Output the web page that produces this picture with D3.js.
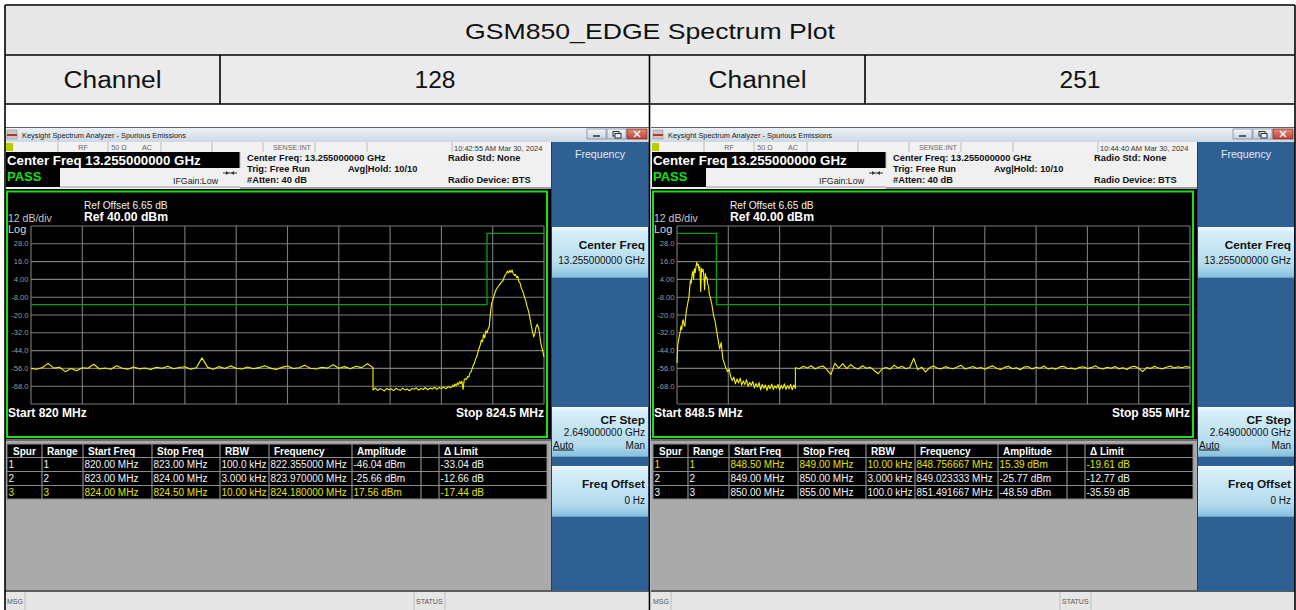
<!DOCTYPE html>
<html><head><meta charset="utf-8">
<script src="https://cdn.jsdelivr.net/npm/d3@7"></script>
<style>
body{margin:0;background:#fff;}
svg{display:block;}
</style></head><body>
<svg id="c" width="1296" height="610"></svg>
<script>
// ---------------- DATA ----------------
const reportTitle = "GSM850_EDGE Spectrum Plot";
const channelLabel = "Channel";
const channels = ["128", "251"];
const windowTitle = "Keysight Spectrum Analyzer - Spurious Emissions";
const timestamps = ["10:42:55 AM Mar 30, 2024", "10:44:40 AM Mar 30, 2024"];
const spanStart = [820, 848.5];
const spanStop = [824.5, 855];
const startLabels = ["Start  820 MHz", "Start  848.5 MHz"];
const stopLabels = ["Stop 824.5 MHz", "Stop 855 MHz"];
const refLevel = 40;
const dbPerDiv = 12;
const numDivs = 10;
const yTickValues = [28, 16, 4, -8, -20, -32, -44, -56, -68];
const yTickLabels = ["28.0", "16.0", "4.00", "-8.00", "-20.0", "-32.0", "-44.0", "-56.0", "-68.0"];

// limit lines: [freq MHz, dBm], step-after
const limitCh128 = [[820, -13], [824, 35], [824.5, 35]];
const limitCh251 = [[848.5, 35], [849, -13], [855, -13]];

// traces: sweep segments (start MHz, stop MHz, dBm readings evenly spaced over the segment)
const traceCh128 = [
  {start: 820.00, stop: 823.00, values: [
    -56.0,-56.6,-55.4,-52.6,-55.8,-55.2,-58.2,-56.0,-57.6,-55.6,
    -55.9,-53.2,-56.4,-55.7,-56.6,-54.2,-55.9,-56.5,-55.1,-56.3,
    -55.7,-56.8,-55.2,-55.9,-54.6,-56.2,-55.4,-54.9,-56.5,-55.6,
    -48.9,-55.3,-56.6,-54.8,-56.0,-54.3,-55.9,-56.4,-55.1,-56.2,
    -55.5,-54.2,-55.8,-56.7,-55.3,-54.4,-56.1,-55.6,-53.8,-55.9,
    -56.4,-55.2,-55.8,-53.6,-55.9,-54.8,-56.3,-54.6,-55.5,-52.9,-55.4]},
  {start: 823.00, stop: 823.70, values: [
    -70.6,-69.2,-70.9,-69.6,-70.3,-71.2,-69.5,-70.4,-69.8,-71.0,
    -69.4,-70.2,-70.8,-69.3,-70.5,-69.9,-71.1,-69.6,-70.0,-69.1,
    -70.7,-69.5,-70.2,-68.9,-70.4,-69.3,-69.9,-68.7,-70.1,-68.9,
    -69.6,-68.4,-69.8,-68.2,-69.1,-67.8]},
  {start: 823.70, stop: 824.00, values: [
    -67.2,-68.4,-66.5,-67.6,-65.8,-66.9,-64.9,-66.2,-64.6,-70.2,
    -63.8,-62.9,-63.5,-61.4,-61.9,-59.2,-58.4,-56.1,-53.8,-52.4,
    -49.6,-48.2,-45.1,-42.6,-40.4,-36.9,-38.2,-33.1,-35.4,-30.6,-32.2]},
  {start: 824.00, stop: 824.50, values: [
    -32.2,-29.4,-27.6,-18.9,-12.3,-10.1,-7.4,-5.2,-3.0,-1.6,
    -0.8,0.6,1.2,2.6,3.1,5.4,6.9,8.2,9.6,8.4,
    10.2,8.6,10.4,7.8,6.6,7.4,5.2,6.1,2.4,1.6,
    -1.8,-3.4,-5.6,-8.2,-10.4,-13.8,-16.2,-19.4,-23.6,-27.8,
    -31.6,-34.8,-32.4,-28.2,-26.4,-27.9,-31.8,-38.2,-41.6,-44.8,-48.2]}
];
const traceCh251 = [
  {start: 848.50, stop: 849.00, values: [
    -52.4,-40.2,-36.8,-34.2,-31.6,-27.4,-29.8,-24.6,-23.2,-26.8,
    -27.6,-21.2,-16.4,-14.2,-10.8,-8.6,-2.4,3.2,1.4,6.8,
    9.4,4.2,11.2,8.6,12.1,15.6,13.4,14.2,9.8,12.6,
    -4.2,11.4,9.2,10.8,6.4,-3.0,8.1,4.6,5.2,0.4,
    -0.6,-6.4,-7.8,-10.2,-12.4,-15.6,-19.2,-21.8,-23.6,-26.4,-30.2]},
  {start: 849.00, stop: 850.00, values: [
    -30.2,-36.4,-42.8,-38.6,-49.4,-52.6,-55.8,-58.2,-56.4,-61.6,
    -64.2,-61.8,-66.4,-63.2,-65.8,-62.6,-67.2,-64.4,-66.8,-63.6,
    -68.2,-65.4,-67.6,-64.8,-69.2,-66.2,-68.6,-65.6,-70.4,-66.8,
    -69.4,-67.2,-70.8,-67.4,-69.8,-66.6,-70.2,-67.8,-69.4,-66.8,
    -70.6,-67.4,-69.6,-66.4,-70.2,-67.6,-69.8,-66.8,-70.4,-67.2,-69.6]},
  {start: 850.00, stop: 855.00, values: [
    -55.6,-56.2,-54.6,-55.8,-54.2,-56.4,-55.1,-54.4,-56.8,-60.2,
    -52.6,-55.8,-52.8,-56.2,-53.4,-55.6,-56.4,-54.2,-55.9,-55.3,
    -57.4,-59.6,-56.2,-55.4,-56.6,-53.8,-55.7,-54.6,-56.2,-55.4,
    -49.2,-56.8,-55.2,-58.4,-55.6,-54.4,-55.9,-56.3,-54.8,-55.7,
    -56.2,-55.1,-53.9,-56.4,-55.6,-54.7,-56.1,-55.4,-56.6,-55.2,
    -54.3,-55.9,-56.8,-55.3,-54.6,-56.2,-55.5,-56.9,-55.1,-54.8,
    -56.4,-55.2,-55.9,-54.4,-56.3,-55.7,-56.5,-55.0,-54.6,-56.2,
    -55.8,-56.6,-55.3,-54.9,-56.1,-55.5,-54.2,-55.8,-56.4,-55.2,
    -55.9,-54.7,-56.3,-55.6,-56.8,-55.1,-54.5,-55.9,-58.2,-55.4,
    -56.0,-54.6,-55.7,-56.3,-55.2,-54.4,-55.8,-54.9,-55.6,-54.7,-55.3]}
];

const tableHeaders = ["Spur", "Range", "Start Freq", "Stop Freq", "RBW", "Frequency", "Amplitude", "", "\u0394 Limit"];
const spurRowsCh128 = [
  ["1", "1", "820.00 MHz", "823.00 MHz", "100.0 kHz", "822.355000 MHz", "-46.04 dBm", "", "-33.04 dB"],
  ["2", "2", "823.00 MHz", "824.00 MHz", "3.000 kHz", "823.970000 MHz", "-25.66 dBm", "", "-12.66 dB"],
  ["3", "3", "824.00 MHz", "824.50 MHz", "10.00 kHz", "824.180000 MHz", "17.56 dBm", "", "-17.44 dB"]
];
const spurRowsCh251 = [
  ["1", "1", "848.50 MHz", "849.00 MHz", "10.00 kHz", "848.756667 MHz", "15.39 dBm", "", "-19.61 dB"],
  ["2", "2", "849.00 MHz", "850.00 MHz", "3.000 kHz", "849.023333 MHz", "-25.77 dBm", "", "-12.77 dB"],
  ["3", "3", "850.00 MHz", "855.00 MHz", "100.0 kHz", "851.491667 MHz", "-48.59 dBm", "", "-35.59 dB"]
];
const highlightRows = [2, 0];

// ---------------- DRAW ----------------
const svg = d3.select("#c").attr("font-family", "'Liberation Sans', Arial, sans-serif");
const defs = svg.append("defs");
function grad(id, stops) {
  const lg = defs.append("linearGradient").attr("id", id).attr("x1", 0).attr("y1", 0).attr("x2", 0).attr("y2", 1);
  stops.forEach(([o, c]) => lg.append("stop").attr("offset", o).attr("stop-color", c));
}
grad("keyGrad", [["0%", "#f4fbfe"], ["10%", "#d6eef8"], ["75%", "#b2dbee"], ["100%", "#84bedb"]]);
grad("titleGrad", [["0%", "#eef2f7"], ["100%", "#cdd8e4"]]);
grad("btnGrad", [["0%", "#f6f8fb"], ["100%", "#c3cfdd"]]);
grad("closeGrad", [["0%", "#e58a7c"], ["100%", "#c2402f"]]);

function T(g, x, y, s, o = {}) {
  const t = g.append("text").attr("x", x).attr("y", y).text(s)
    .attr("font-size", o.size || 10).attr("fill", o.fill || "#000")
    .attr("text-anchor", o.anchor || "start");
  if (o.bold) t.attr("font-weight", "bold");
  if (o.len) t.attr("textLength", o.len).attr("lengthAdjust", "spacingAndGlyphs");
  if (o.deco) t.attr("text-decoration", o.deco);
  return t;
}
function R(g, x, y, w, h, fill, stroke, sw) {
  const r = g.append("rect").attr("x", x).attr("y", y).attr("width", w).attr("height", h).attr("fill", fill);
  if (stroke) r.attr("stroke", stroke).attr("stroke-width", sw || 1);
  return r;
}
function L(g, x1, y1, x2, y2, c, w) {
  return g.append("line").attr("x1", x1).attr("y1", y1).attr("x2", x2).attr("y2", y2)
    .attr("stroke", c).attr("stroke-width", w || 1);
}

// ---- outer report table
R(svg, 5, 5, 1290, 50, "#e8e8e8");
R(svg, 5, 55, 1290, 49, "#ebebeb");
T(svg, 650, 39, reportTitle, {size: 22, anchor: "middle", len: 370, fill: "#111"});
T(svg, 112.5, 88, channelLabel, {size: 23, anchor: "middle", len: 98, fill: "#111"});
T(svg, 435, 88, channels[0], {size: 23, anchor: "middle", len: 41, fill: "#111"});
T(svg, 757.5, 88, channelLabel, {size: 23, anchor: "middle", len: 98, fill: "#111"});
T(svg, 1080, 88, channels[1], {size: 23, anchor: "middle", len: 41, fill: "#111"});

// ---- spectrum analyzer screenshots
function drawPanel(k, dx) {
  const g = svg.append("g").attr("transform", `translate(${dx},0)`);
  // frame
  R(g, 5, 127, 644, 483, "#d6d6d6");
  // title bar
  R(g, 5, 127, 644, 15, "url(#titleGrad)");
  L(g, 5, 127.5, 649, 127.5, "#5a6270", 1);
  R(g, 7, 130, 10, 9, "#c8c8c8", "#888", 0.5);
  R(g, 7, 134, 10, 2, "#c0302a");
  T(g, 22, 138, windowTitle, {size: 7.4, fill: "#1a1a1a"});
  R(g, 587, 129, 19, 10, "url(#btnGrad)", "#7d8ca3", 0.8);
  L(g, 593, 136, 600, 136, "#333", 1.5);
  R(g, 607, 129, 19, 10, "url(#btnGrad)", "#7d8ca3", 0.8);
  R(g, 613, 131.5, 6, 4.5, "none", "#333", 1);
  R(g, 615, 133.5, 6, 4.5, "#e8eef5", "#333", 1);
  R(g, 627, 129, 20, 10, "url(#closeGrad)", "#8a2a20", 0.8);
  L(g, 634, 131, 640, 137, "#fff", 1.5);
  L(g, 640, 131, 634, 137, "#fff", 1.5);

  // status row
  R(g, 5, 142, 546, 10, "#f2f2f2");
  R(g, 6, 143, 7, 8, "#b5cc00");
  [58, 108, 161, 212, 263, 315, 367, 452].forEach(x => L(g, x, 142, x, 152, "#b8b8b8", 1));
  T(g, 83, 150, "RF", {size: 7.2, fill: "#666", anchor: "middle"});
  T(g, 119, 150, "50 \u03A9", {size: 7.2, fill: "#666", anchor: "middle"});
  T(g, 147, 150, "AC", {size: 7.2, fill: "#666", anchor: "middle"});
  T(g, 292, 150, "SENSE:INT", {size: 7.2, fill: "#666", anchor: "middle"});
  T(g, 454, 150.5, timestamps[k], {size: 7.5, fill: "#333"});

  // info area
  R(g, 5, 152, 546, 37, "#f0f0f0");
  R(g, 6, 152, 234, 16, "#000");
  T(g, 7, 164.5, "Center Freq 13.255000000 GHz", {size: 13.3, bold: true, fill: "#fff"});
  R(g, 6, 168, 54, 19, "#000");
  L(g, 60, 187, 240, 187, "#9a9a9a", 1);
  T(g, 7, 181, "PASS", {size: 13, bold: true, fill: "#14e014"});
  T(g, 173, 184, "IFGain:Low", {size: 8.8, fill: "#222"});
  L(g, 223, 173, 237, 173, "#333", 1);
  g.append("path").attr("d", "M226,171 L229,173 L226,175 Z M234,171 L231,173 L234,175 Z").attr("fill", "#333");
  L(g, 240, 152, 240, 168, "#bbb", 1);
  T(g, 247, 161, "Center Freq: 13.255000000 GHz", {size: 9.3, bold: true, fill: "#111"});
  T(g, 247, 172, "Trig: Free Run", {size: 9.3, bold: true, fill: "#111"});
  T(g, 247, 183, "#Atten: 40 dB", {size: 9.3, bold: true, fill: "#111"});
  T(g, 348, 172, "Avg|Hold: 10/10", {size: 9.3, bold: true, fill: "#111"});
  T(g, 448, 161, "Radio Std: None", {size: 9.3, bold: true, fill: "#111"});
  T(g, 448, 183, "Radio Device: BTS", {size: 9.3, bold: true, fill: "#111"});
  L(g, 240, 188, 551, 188, "#9c9c9c", 2);

  // graph area
  R(g, 5, 189, 546, 250, "#000");
  R(g, 7, 191.5, 540, 245.5, "none", "#18e018", 2);
  T(g, 84, 209, "Ref Offset 6.65 dB", {size: 10.2, fill: "#f2f2f2"});
  T(g, 84, 221, "Ref 40.00 dBm", {size: 12.2, bold: true, fill: "#fff"});
  T(g, 8, 222, "12 dB/div", {size: 10.5, fill: "#c8c8c8"});
  T(g, 8, 233, "Log", {size: 11, fill: "#d8d8d8"});

  const x = d3.scaleLinear().domain([spanStart[k], spanStop[k]]).range([31, 544]);
  const y = d3.scaleLinear().domain([refLevel - dbPerDiv * numDivs, refLevel]).range([404, 226]);
  const xGrid = d3.range(numDivs + 1).map(i => spanStart[k] + i * (spanStop[k] - spanStart[k]) / numDivs);
  const yGrid = d3.range(numDivs + 1).map(i => refLevel - i * dbPerDiv);
  const grid = g.append("g");
  grid.selectAll(".vx").data(xGrid).join("line")
    .attr("x1", d => x(d)).attr("x2", d => x(d)).attr("y1", y(refLevel)).attr("y2", y(refLevel - dbPerDiv * numDivs))
    .attr("stroke", "#7c7c7c").attr("stroke-width", 1.1);
  grid.selectAll(".hy").data(yGrid).join("line")
    .attr("x1", x(spanStart[k])).attr("x2", x(spanStop[k])).attr("y1", d => y(d)).attr("y2", d => y(d))
    .attr("stroke", "#7c7c7c").attr("stroke-width", 1.1);
  g.selectAll(".yl").data(yTickValues).join("text")
    .attr("x", 28.5).attr("y", d => y(d) + 2.6).attr("text-anchor", "end")
    .attr("font-size", 7.6).attr("fill", "#9c9c9c")
    .text((d, i) => yTickLabels[i]);

  const lim = k === 0 ? limitCh128 : limitCh251;
  g.append("path").datum(lim)
    .attr("d", d3.line().x(d => x(d[0])).y(d => y(d[1])).curve(d3.curveStepAfter))
    .attr("fill", "none").attr("stroke", "#0aa00a").attr("stroke-width", 1.3);

  const segs = k === 0 ? traceCh128 : traceCh251;
  const pts = [];
  segs.forEach(s => s.values.forEach((v, i) => pts.push([s.start + i * (s.stop - s.start) / (s.values.length - 1), v])));
  g.append("path").datum(pts)
    .attr("d", d3.line().x(d => x(d[0])).y(d => y(d[1])))
    .attr("fill", "none").attr("stroke", "#f2f200").attr("stroke-width", 1.1).attr("stroke-linejoin", "round");

  T(g, 8, 417, startLabels[k], {size: 12, bold: true, fill: "#fff"});
  T(g, 544, 417, stopLabels[k], {size: 12, bold: true, fill: "#fff", anchor: "end"});

  // spur table
  R(g, 5, 439, 546, 152, "#aaaaaa");
  L(g, 5, 440, 551, 440, "#6c6c6c", 2);
  const colX = [7, 42, 83, 152, 220, 269, 352, 421, 439, 547];
  const rowY = [444, 457.5, 471.5, 485.5, 499];
  R(g, 7, rowY[0], 540, rowY[4] - rowY[0], "#000");
  tableHeaders.forEach((h, c) => T(g, colX[c] + (c === 0 ? 6 : 5), 454.5, h, {size: 10, bold: true, fill: "#fff"}));
  const rows = k === 0 ? spurRowsCh128 : spurRowsCh251;
  rows.forEach((r, ri) => r.forEach((cell, c) =>
    T(g, colX[c] + 1.5, rowY[ri + 1] + 10.5, cell, {size: 10, fill: ri === highlightRows[k] ? "#e2e200" : "#f4f4f4"})));
  rowY.slice(1, 4).forEach(yy => L(g, 7, yy, 547, yy, "#8a8a8a", 1.2));
  colX.slice(1, 9).forEach(xx => L(g, xx, rowY[0], xx, rowY[4], "#8a8a8a", 1.2));
  R(g, 7, rowY[0], 540, rowY[4] - rowY[0], "none", "#8a8a8a", 1);

  // message bar
  R(g, 5, 590, 644, 20, "#e6e6e6");
  L(g, 5, 591, 649, 591, "#5c5c5c", 2);
  T(g, 7, 604, "MSG", {size: 7, fill: "#555"});
  L(g, 25, 592, 25, 610, "#bdbdbd", 1);
  L(g, 414, 592, 414, 610, "#bdbdbd", 1);
  L(g, 445, 592, 445, 610, "#bdbdbd", 1);
  T(g, 416, 604, "STATUS", {size: 7, fill: "#555"});

  // soft key panel
  R(g, 551, 142, 98, 449, "#2f6093");
  L(g, 551.5, 142, 551.5, 591, "#1d3f66", 1);
  T(g, 600, 157.5, "Frequency", {size: 10.6, fill: "#e2eaf2", anchor: "middle"});
  const keys = [[227, 51], [407, 50], [466, 51]];
  keys.forEach(([ky, kh]) => {
    R(g, 552, ky, 96, kh, "url(#keyGrad)");
    L(g, 552, ky + kh - 0.5, 648, ky + kh - 0.5, "#6aa3c4", 1);
  });
  T(g, 645, 248.5, "Center Freq", {size: 11.8, bold: true, fill: "#111", anchor: "end"});
  T(g, 645, 264, "13.255000000 GHz", {size: 10, fill: "#111", anchor: "end"});
  T(g, 645, 423.5, "CF Step", {size: 11.8, bold: true, fill: "#111", anchor: "end"});
  T(g, 645, 435.5, "2.649000000 GHz", {size: 10, fill: "#111", anchor: "end"});
  T(g, 553, 448.5, "Auto", {size: 10, fill: "#111", deco: "underline"});
  T(g, 645, 448.5, "Man", {size: 10, fill: "#111", anchor: "end"});
  T(g, 645, 487.5, "Freq Offset", {size: 11.8, bold: true, fill: "#111", anchor: "end"});
  T(g, 645, 503.5, "0 Hz", {size: 10, fill: "#111", anchor: "end"});
}
drawPanel(0, 0);
drawPanel(1, 646);

// ---- report table grid lines
const lines = svg.append("g").attr("stroke", "#000").attr("stroke-width", 1.6);
[[5, 5, 1295, 5], [5, 55, 1295, 55], [5, 104, 1295, 104], [5, 5, 5, 610], [1295, 5, 1295, 610],
 [220, 55, 220, 104], [865, 55, 865, 104], [649.5, 55, 649.5, 610]].forEach(([a, b, c, d]) =>
  lines.append("line").attr("x1", a).attr("y1", b).attr("x2", c).attr("y2", d));
</script></body></html>
